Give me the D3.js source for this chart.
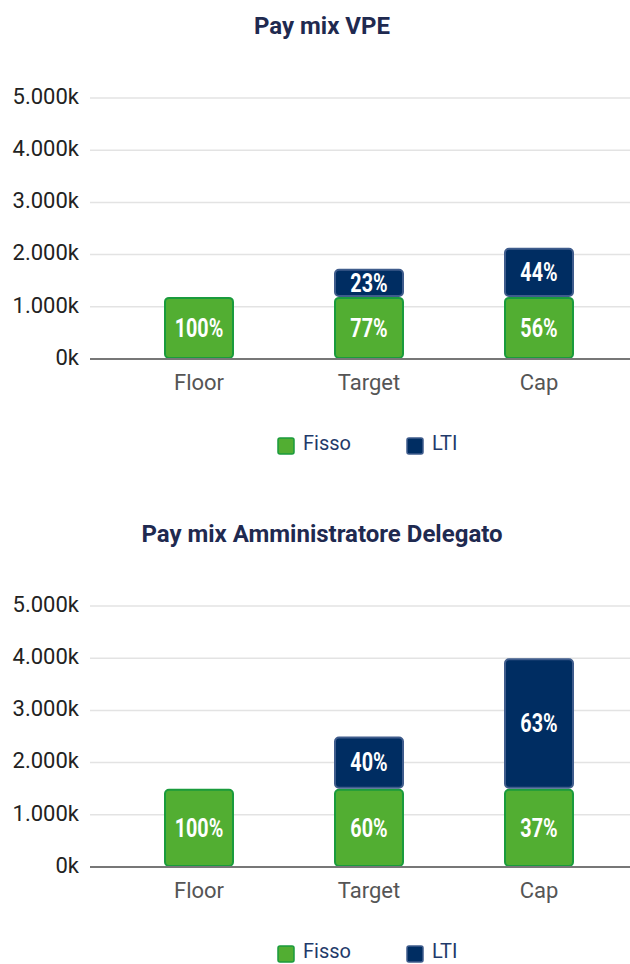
<!DOCTYPE html>
<html lang="en">
<head>
  <meta charset="UTF-8" />
  <title>Pay mix</title>
  <script src="https://cdn.jsdelivr.net/npm/d3@7"></script>
  <style>
    html, body { margin: 0; padding: 0; background: #fff; }
    svg { display: block; }
    text { font-family: "Roboto", "Liberation Sans", sans-serif; }
  </style>
</head>
<body>
  <script>
    // ----------------------------
    // Data
    // ----------------------------
    const categories = ["Floor", "Target", "Cap"];
    const series = ["Fisso", "LTI"];
    const yTicks = [0, 1000, 2000, 3000, 4000, 5000];

    // Pay mix VPE (k€)
    const vpeFisso = [1190, 1190, 1190];
    const vpeLti = [0, 540, 940];
    const vpeFissoLabels = ["100%", "77%", "56%"];
    const vpeLtiLabels = ["", "23%", "44%"];

    // Pay mix Amministratore Delegato (k€)
    const adFisso = [1500, 1500, 1500];
    const adLti = [0, 1000, 2500];
    const adFissoLabels = ["100%", "60%", "37%"];
    const adLtiLabels = ["", "40%", "63%"];

    const colors = { Fisso: "#52ae32", LTI: "#002d62" };
    const strokes = { Fisso: "#1a9b3c", LTI: "#3f5c8c" };

    const width = 630, height = 964;
    const svg = d3.select("body").append("svg")
      .attr("width", width)
      .attr("height", height);

    // ----------------------------
    // One stacked chart
    // ----------------------------
    function drawChart(top, title, fisso, lti, fissoLabels, ltiLabels) {
      const g = svg.append("g").attr("transform", `translate(0,${top})`);
      const y = d3.scaleLinear().domain([0, 5000]).range([359, 98]);
      const x = d3.scaleBand().domain(categories).range([114, 624]).paddingInner(0.6).paddingOuter(0.3);

      g.append("text")
        .attr("x", 322).attr("y", 28)
        .attr("text-anchor", "middle")
        .attr("dominant-baseline", "middle")
        .attr("font-size", 24).attr("font-weight", "bold")
        .attr("fill", "#1f2a50")
        .text(title);

      // gridlines
      g.selectAll(".grid").data(yTicks.slice(1)).join("line")
        .attr("x1", 90).attr("x2", 630)
        .attr("y1", d => y(d)).attr("y2", d => y(d))
        .attr("stroke", "#e3e3e3").attr("stroke-width", 1.5);

      g.selectAll(".ytick").data(yTicks).join("text")
        .attr("x", 79).attr("y", d => y(d))
        .attr("text-anchor", "end")
        .attr("dominant-baseline", "middle")
        .attr("font-size", 22).attr("fill", "#222")
        .text(d => d3.format(",")(d).replace(/,/g, ".") + "k");

      const rows = categories.map((c, i) => ({ cat: c, Fisso: fisso[i], LTI: lti[i], fl: fissoLabels[i], ll: ltiLabels[i] }));
      const stacked = d3.stack().keys(series)(rows);

      stacked.forEach(layer => {
        const segs = layer.filter(d => d[1] > d[0]);
        g.append("g").selectAll("rect").data(segs).join("rect")
          .attr("x", d => x(d.data.cat))
          .attr("y", d => y(d[1]) + 1)
          .attr("width", x.bandwidth())
          .attr("height", d => y(d[0]) - y(d[1]) - 2)
          .attr("rx", 4)
          .attr("fill", colors[layer.key])
          .attr("stroke", strokes[layer.key])
          .attr("stroke-width", 2);

        // condensed look via horizontal squeeze
        g.append("g").selectAll("text").data(segs).join("text")
          .attr("transform", d => `translate(${x(d.data.cat) + x.bandwidth() / 2},${(y(d[0]) + y(d[1])) / 2 + 2}) scale(0.76,1)`)
          .attr("text-anchor", "middle")
          .attr("dominant-baseline", "middle")
          .attr("font-size", 26).attr("font-weight", "bold")
          .attr("fill", "#fff")
          .text(d => layer.key === "Fisso" ? d.data.fl : d.data.ll);
      });

      // baseline
      g.append("line")
        .attr("x1", 90).attr("x2", 630)
        .attr("y1", y(0)).attr("y2", y(0))
        .attr("stroke", "#777").attr("stroke-width", 2);

      g.selectAll(".xlab").data(categories).join("text")
        .attr("x", d => x(d) + x.bandwidth() / 2)
        .attr("y", 384)
        .attr("text-anchor", "middle")
        .attr("dominant-baseline", "middle")
        .attr("font-size", 22).attr("fill", "#555")
        .text(d => d);

      // legend
      const legendX = [278, 407];
      series.forEach((s, i) => {
        g.append("rect")
          .attr("x", legendX[i]).attr("y", 438)
          .attr("width", 16).attr("height", 16).attr("rx", 2)
          .attr("fill", colors[s]).attr("stroke", strokes[s]).attr("stroke-width", 1.5);
        g.append("text")
          .attr("x", legendX[i] + 25).attr("y", 445)
          .attr("dominant-baseline", "middle")
          .attr("font-size", 20).attr("fill", "#1f3a6a")
          .text(s);
      });
    }

    drawChart(0, "Pay mix VPE", vpeFisso, vpeLti, vpeFissoLabels, vpeLtiLabels);
    drawChart(508, "Pay mix Amministratore Delegato", adFisso, adLti, adFissoLabels, adLtiLabels);
  </script>
</body>
</html>
